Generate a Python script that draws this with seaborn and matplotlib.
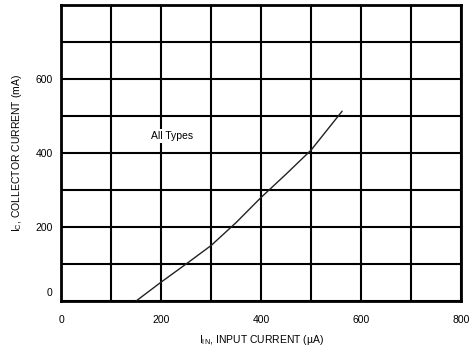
import matplotlib
matplotlib.use("Agg")
import matplotlib.pyplot as plt
import matplotlib.transforms as mtransforms
import seaborn as sns
import pandas as pd

# Data
input_current_uA = [150, 200, 250, 300, 350, 400, 450, 500, 562]
collector_current_mA = [0, 51, 100, 150, 212, 280, 343, 408, 513]
x_ticks = [0, 200, 400, 600, 800]
y_ticks = [0, 200, 400, 600]
x_label = "I$_{IN}$, INPUT CURRENT (µA)"
y_label = "I$_C$, COLLECTOR CURRENT (mA)"
annotation = "All Types"

sns.set_style("white")
plt.rcParams['font.family'] = ['Liberation Sans', 'DejaVu Sans']
plt.rcParams['mathtext.fontset'] = 'custom'
plt.rcParams['mathtext.rm'] = 'Liberation Sans'
plt.rcParams['mathtext.it'] = 'Liberation Sans'
plt.rcParams['text.color'] = 'black'
plt.rcParams['axes.labelcolor'] = 'black'

df = pd.DataFrame({"x": input_current_uA, "y": collector_current_mA})

fig = plt.figure(figsize=(4.73, 3.55), dpi=100)
ax = fig.add_axes([0.129, 0.152, 0.846, 0.834])

sns.lineplot(data=df, x="x", y="y", ax=ax, color="#222222", linewidth=1.0, zorder=3)

ax.set_xlim(0, 800)
ax.set_ylim(0, 800)
ax.set_xticks(range(0, 801, 100))
ax.set_yticks(range(0, 801, 100))
ax.set_xticklabels([str(v) if v in x_ticks else "" for v in range(0, 801, 100)])
ax.set_yticklabels([str(v) if v in y_ticks else "" for v in range(0, 801, 100)])
ax.grid(True, color="black", linewidth=1.5, zorder=1)
ax.set_axisbelow(True)
ax.tick_params(axis="both", length=0, labelsize=7.5, colors="black")
ax.tick_params(axis="x", pad=10)
ax.tick_params(axis="y", pad=6)
for s in ax.spines.values():
    s.set_color("black")
    s.set_linewidth(2)

# shift the "0" y tick label upward as in the reference
lbl0 = ax.get_yticklabels()[0]
lbl0.set_transform(lbl0.get_transform() + mtransforms.ScaledTranslation(0, 9/100, fig.dpi_scale_trans))

ax.set_xlabel(x_label, fontsize=7.5, labelpad=6, color="black")
ax.set_ylabel(y_label, fontsize=7.5, labelpad=8, color="black")

ax.text(222, 446, annotation, fontsize=7.5, ha="center", va="center", color="black",
        bbox=dict(facecolor="white", edgecolor="none", pad=1.5), zorder=4)

fig.savefig("out.png", dpi=100)
